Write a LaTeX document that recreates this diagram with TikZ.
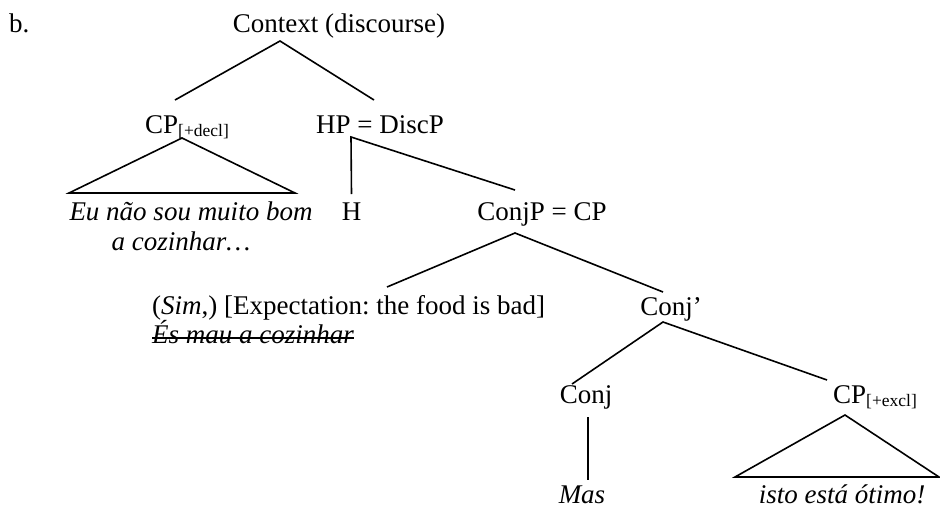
\documentclass[tikz,border=0pt]{standalone}
\usepackage{fontspec}
\setmainfont{Liberation Serif}
\frenchspacing
\newcommand\sbs[1]{\raisebox{-3pt}{\fontsize{17.5}{20}\selectfont #1}}
\begin{document}
\begin{tikzpicture}[x=1pt,y=-1pt,
  lbl/.style={inner sep=0pt,anchor=base,font=\fontsize{27}{32}\selectfont},
  lblw/.style={lbl,anchor=base west},
  edge/.style={line width=1.6pt},
  tri/.style={line width=1.6pt,line join=miter}]
\useasboundingbox (0,0) rectangle (940,507);
% nodes
\node[lblw] (b) at (9,32) {b.};
\node[lbl] (ctx) at (339,32) {Context (discourse)};
\node[lbl] (cp1) at (187,133) {CP\sbs{[+decl]}};
\node[lbl] (hp) at (380,133) {HP = DiscP};
\node[lbl] (eu) at (191,220) {\itshape Eu não sou muito bom};
\node[lbl] (eu2) at (181,250) {\itshape a cozinhar…};
\node[lbl] (h) at (351.5,220) {H};
\node[lbl] (conjp) at (542,220) {ConjP = CP};
\node[lblw] (exp) at (152,314) {(\textit{Sim},) [Expectation: the food is bad]};
\node[lblw] (strk) at (152,343) {\itshape És mau a cozinhar};
\node[lbl] (conjb) at (671,315) {Conj’};
\node[lbl] (conj) at (586,403) {Conj};
\node[lbl] (cp2) at (875,403) {CP\sbs{[+excl]}};
\node[lbl] (mas) at (582,503) {\itshape Mas};
\node[lbl] (isto) at (842,503) {\itshape isto está ótimo!};
% strike-through
\draw[edge] ([shift={(0,-5)}]strk.base west) -- ([shift={(0,-5)}]strk.base east);
% branches
\draw[edge] ([shift={(-12,-33)}]cp1.base) -- ([shift={(-59,9)}]ctx.base) -- ([shift={(-6,-33)}]hp.base);
\draw[tri] ([shift={(-122,-27)}]eu.base) -- ([shift={(-5,5)}]cp1.base) -- ([shift={(104,-27)}]eu.base) -- cycle;
\draw[edge] ([shift={(0,-26)}]h.base) -- ([shift={(-29,4)}]hp.base) -- ([shift={(-27,-30)}]conjp.base);
\draw[edge] ([shift={(235,-27)}]exp.base west) -- ([shift={(-27,13)}]conjp.base) -- ([shift={(-8,-23)}]conjb.base);
\draw[edge] ([shift={(-14,-19)}]conj.base) -- ([shift={(-8,7)}]conjb.base) -- ([shift={(-48,-23)}]cp2.base);
\draw[edge] ([shift={(2,14)}]conj.base) -- ([shift={(6,-23)}]mas.base);
\draw[tri] ([shift={(-107,-26)}]isto.base) -- ([shift={(-30,12)}]cp2.base) -- ([shift={(97,-26)}]isto.base) -- cycle;
\end{tikzpicture}
\end{document}
